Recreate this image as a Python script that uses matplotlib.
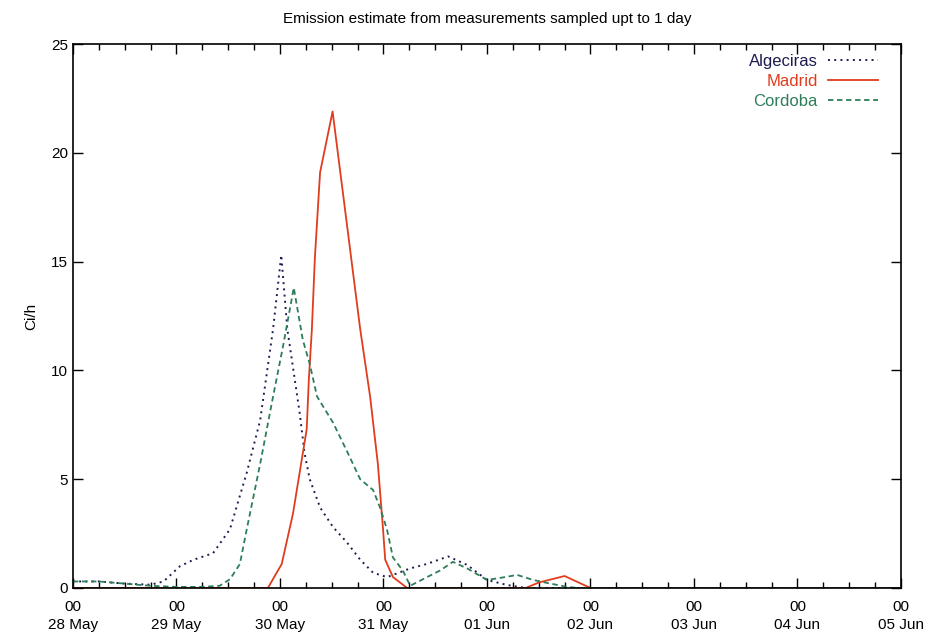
import matplotlib
matplotlib.use("Agg")
import matplotlib.pyplot as plt
from matplotlib.ticker import MultipleLocator

plt.rcParams['font.family'] = ['Liberation Sans', 'DejaVu Sans']

# hours since 28 May 00:00
alg_h = [0, 6, 12, 18, 21, 24.8, 28, 32.5, 36.4, 40.3, 43.4, 46.4, 48.3, 49.7, 50.9, 52.6, 53.7, 54.9,
         57.3, 60.3, 63.5, 66.6, 69.6, 72.8, 74.2, 78.2, 82, 87, 91.4, 96, 100.6, 105, 192]
alg_v = [0.3, 0.3, 0.2, 0.15, 0.3, 1.0, 1.3, 1.6, 2.7, 5.3, 7.7, 11.9, 15.3, 11.9, 10.3, 8.0, 6.2, 5.0,
         3.7, 2.8, 2.1, 1.3, 0.7, 0.5, 0.6, 0.9, 1.1, 1.45, 1.06, 0.37, 0.14, 0.0, 0.0]

mad_h = [0, 45.2, 48.4, 51, 53.3, 54.2, 54.7, 55.4, 56.1, 57.3, 60.2, 66.6, 68.9, 70.7, 71.9, 72.4,
         74.2, 77.5, 105, 108, 114, 120, 192]
mad_v = [0.0, 0.0, 1.1, 3.4, 6.2, 7.3, 9.6, 11.9, 15.2, 19.1, 21.9, 11.9, 8.8, 5.7, 2.7, 1.3,
         0.5, 0.0, 0.0, 0.25, 0.55, 0.0, 0.0]

cor_h = [0, 6, 12, 18, 24, 30, 34, 36.4, 38.7, 40.3, 43.4, 46.4, 48.7, 50, 51.2, 53.3, 54.9, 56.6,
         60.3, 63.5, 66.6, 69.6, 71.2, 72.8, 74.2, 76.5, 78.2, 82.1, 85.1, 88.1, 91.4, 96, 99, 103,
         106.7, 110, 114.6, 117, 192]
cor_v = [0.3, 0.3, 0.2, 0.1, 0.05, 0.05, 0.1, 0.4, 1.1, 2.7, 5.7, 8.8, 11.1, 12.5, 13.8, 11.4, 10.3, 8.8,
         7.6, 6.3, 5.0, 4.5, 3.7, 2.7, 1.4, 0.8, 0.1, 0.5, 0.8, 1.2, 0.9, 0.37, 0.46, 0.6,
         0.37, 0.23, 0.05, 0.0, 0.0]

day_ticks = [0, 24, 48, 72, 96, 120, 144, 168, 192]
day_labels = ["00\n28 May", "00\n29 May", "00\n30 May", "00\n31 May", "00\n01 Jun",
              "00\n02 Jun", "00\n03 Jun", "00\n04 Jun", "00\n05 Jun"]
y_ticks = [0, 5, 10, 15, 20, 25]

title = "Emission estimate from measurements sampled upt to 1 day"

c_alg = '#1c1c50'
c_mad = '#e03c1e'
c_cor = '#2e7d5a'

fig = plt.figure(figsize=(9.32, 6.36), dpi=100)
ax = fig.add_axes([0.0783, 0.0755, 0.9667 - 0.0783, 0.9308 - 0.0755])

ax.plot(alg_h, alg_v, color=c_alg, lw=1.4, linestyle=(0, (1, 2.2)), label="Algeciras")
ax.plot(mad_h, mad_v, color=c_mad, lw=1.3, linestyle='-', label="Madrid")
ax.plot(cor_h, cor_v, color=c_cor, lw=1.3, linestyle=(0, (3, 2)), label="Cordoba")

ax.set_xlim(0, 192)
ax.set_ylim(0, 25)
ax.set_xticks(day_ticks)
ax.set_xticklabels(day_labels, fontsize=11, linespacing=1.35)
ax.xaxis.set_minor_locator(MultipleLocator(6))
ax.set_yticks(y_ticks)
ax.set_yticklabels([str(v) for v in y_ticks], fontsize=11)
ax.tick_params(which='both', direction='in', top=True, right=True)
ax.tick_params(which='major', length=7, width=1)
ax.tick_params(which='minor', length=4, width=1)
ax.tick_params(axis='x', pad=9)
for s in ax.spines.values():
    s.set_linewidth(1.2)

ax.set_ylabel("Ci/h", fontsize=11, labelpad=9)
ax.set_title(title, fontsize=11, pad=15)

leg = ax.legend(loc='upper right', bbox_to_anchor=(0.972, 0.982), frameon=False, markerfirst=False,
                fontsize=12, handlelength=3.0, handletextpad=0.6, borderaxespad=0.0,
                borderpad=0.0, labelspacing=0.3)
for txt, c in zip(leg.get_texts(), [c_alg, c_mad, c_cor]):
    txt.set_color(c)
    txt.set_ha('right')

fig.savefig("out.png", dpi=100)
